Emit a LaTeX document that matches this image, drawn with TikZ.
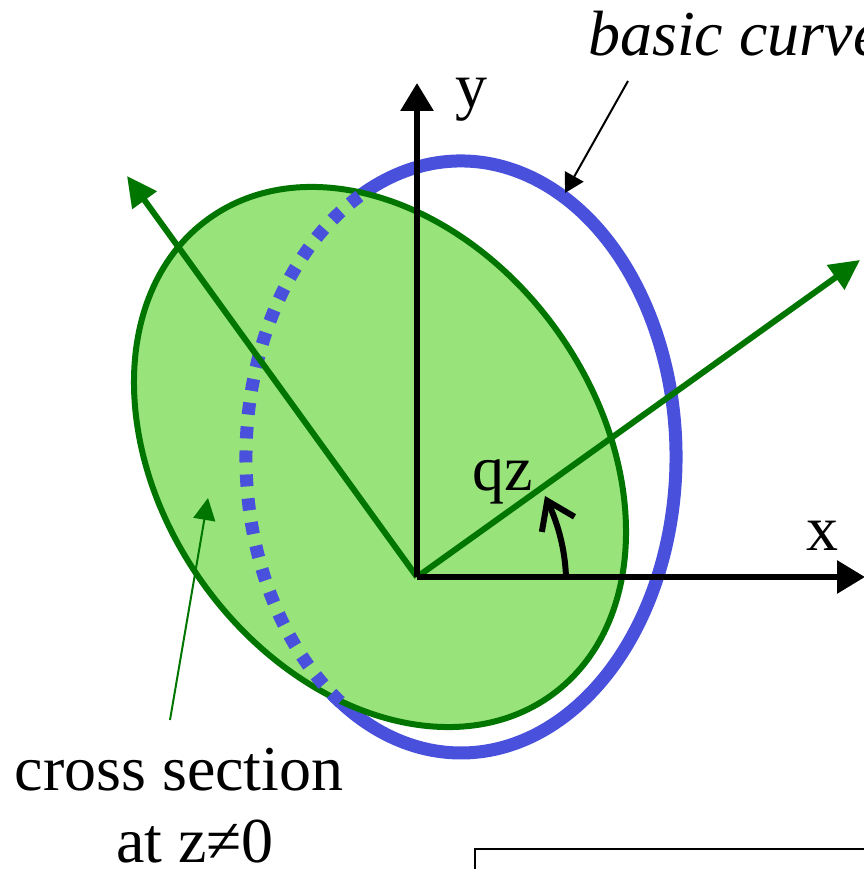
\documentclass[tikz,border=0pt]{standalone}
\usepackage{fontspec}
\setmainfont{Liberation Serif}
\usetikzlibrary{arrows.meta}
\definecolor{sectfill}{RGB}{152,228,122}
\definecolor{sectline}{RGB}{0,118,0}
\definecolor{curveblue}{RGB}{72,80,220}
\tikzset{
lab/.style={inner sep=0pt,anchor=base,font=\fontsize{64}{64}\selectfont},
axisline/.style={line width=6pt,-{Triangle[length=28pt,width=32pt]}},
rotline/.style={sectline,line width=6pt,-{Triangle[length=30pt,width=29pt]}},
curveline/.style={curveblue,line width=13pt}
}
\begin{document}
\begin{tikzpicture}[x=1pt,y=1pt]
\useasboundingbox (0,0) rectangle (863,869);
\coordinate (o) at (417,292);
\coordinate (bluec) at (461,412);
\coordinate (greenc) at (380,412);
\coordinate (xtip) at (865,292);
\coordinate (ytip) at (417,786);
\coordinate (utip) at (860,609);
\coordinate (vtip) at (127,693);
\coordinate (anglestart) at (566,292);
\coordinate (angletip) at (545,373);
\coordinate (sectstart) at (170,149);
\coordinate (secttip) at (208,371);
\coordinate (basicstart) at (628,788);
\coordinate (basictip) at (565,676);
\coordinate (boxa) at (475,0);
\coordinate (boxb) at (475,20);
\coordinate (boxc) at (870,20);
\draw[curveline] ([shift={(bluec)}]118:215 and 296) arc[start angle=118,end angle=-127,x radius=215pt,y radius=296pt];
\draw[sectline,fill=sectfill,line width=6pt] (greenc) circle[x radius=217.5pt,y radius=293.5pt,rotate=35.7];
\draw[curveline,dash pattern=on 12pt off 12pt] ([shift={(bluec)}]118.2:215 and 296) arc[start angle=118.2,end angle=236,x radius=215pt,y radius=296pt];
\draw[rotline] (o)--(utip);
\draw[rotline] (o)--(vtip);
\draw[axisline] (o)--(xtip);
\draw[axisline] (o)--(ytip);
\draw[line width=6pt,-{Straight Barb[length=26pt,width=36pt]}] (anglestart) .. controls (565,320) and (558,345) .. (angletip);
\draw[sectline,line width=2pt,-{Triangle[length=22pt,width=22pt]}] (sectstart)--(secttip);
\draw[line width=2pt,-{Triangle[length=19pt,width=21pt]}] (basicstart)--(basictip);
\draw[line width=1.5pt] (boxa)--(boxb)--(boxc);
\node[lab] (ylab) at (471,761) {y};
\node[lab] (xlab) at (822,318) {x};
\node[lab] (qzlab) at (503,378) {qz};
\node[lab,anchor=base west] (basiclab) at (588,813) {\itshape basic curve};
\node[lab] (crosslab) at (179,78) {cross section};
\node[lab] (atlab) at (195,6) {at z≠0};
\end{tikzpicture}
\end{document}
